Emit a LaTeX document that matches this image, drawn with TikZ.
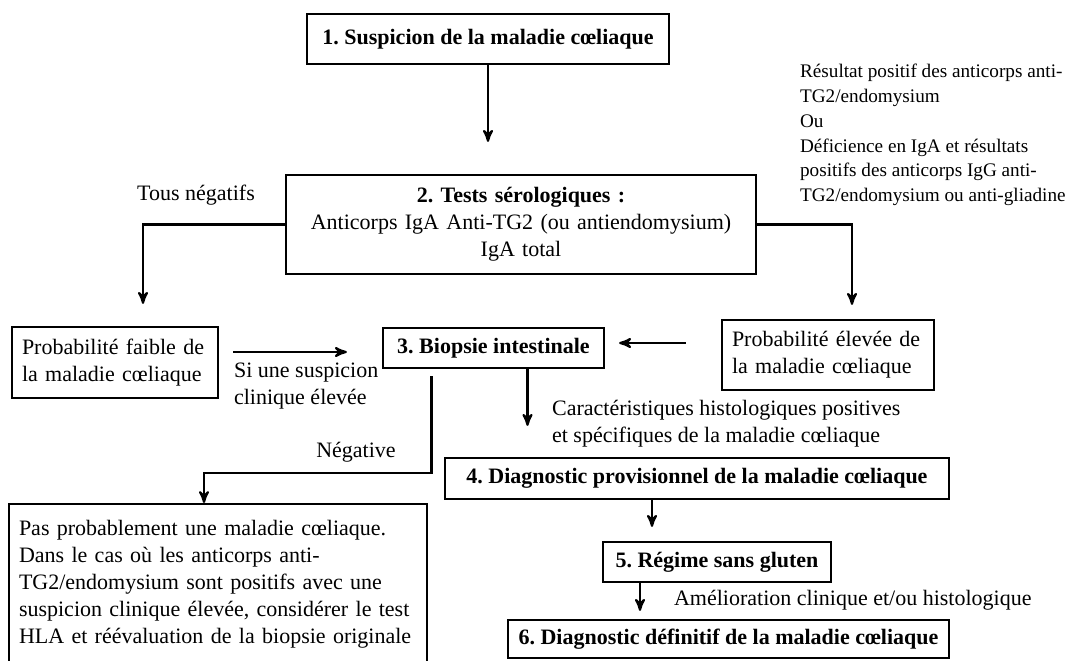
\documentclass[tikz,border=0pt]{standalone}
\usepackage{fontspec}
\setmainfont{Liberation Serif}
\usetikzlibrary{arrows}
\frenchspacing

\begin{document}
\begin{tikzpicture}[x=0.5pt,y=-0.5pt,->,>=stealth',line width=1.1pt]
    \tikzstyle{every node}=[font={\fontsize{11}{13.5}\selectfont},text=black]
    \tikzstyle{box}=[draw,inner xsep=5pt,inner ysep=0pt,align=left]
    \tikzstyle{stepbox}=[draw,inner sep=0pt,font={\fontsize{11}{13.5}\selectfont\bfseries}]
    \tikzstyle{note}=[inner sep=0pt,align=left,anchor=west]
    \useasboundingbox (0,0) rectangle (1073,660);
    \node[stepbox,minimum width=181pt,minimum height=25pt]   (1) at (488,39)    {1. Suspicion de la maladie cœliaque};
    \node[box,text width=225pt,minimum height=49.5pt,align=center] (2) at (521,224.5) {\textbf{2. Tests sérologiques :}\\Anticorps IgA Anti-TG2 (ou antiendomysium)\\IgA total};
    \node[stepbox,minimum width=110.5pt,minimum height=20pt] (3) at (493.5,348) {3. Biopsie intestinale};
    \node[stepbox,minimum width=252pt,minimum height=20.5pt] (4) at (697,478.5) {4. Diagnostic provisionnel de la maladie cœliaque};
    \node[stepbox,minimum width=114pt,minimum height=20pt]   (5) at (717,562)   {5. Régime sans gluten};
    \node[stepbox,minimum width=220.5pt,minimum height=19pt] (6) at (728.5,639) {6. Diagnostic définitif de la maladie cœliaque};
    \node[box,text width=93pt,minimum height=35.5pt]  (7) at (115,362.5) {Probabilité faible de\\la maladie cœliaque};
    \node[box,text width=96pt,minimum height=35pt]    (8) at (828,355)   {Probabilité élevée de\\la maladie cœliaque};
    \node[box,text width=199pt,minimum height=80pt,anchor=north] (9) at (218,503) {Pas probablement une maladie cœliaque.\\Dans le cas où les anticorps anti-\\TG2/endomysium sont positifs avec une\\suspicion clinique élevée, considérer le test\\HLA et réévaluation de la biopsie originale};
    % labels
    \node (neg) at (196,195) {Tous négatifs};
    \node[note,font={\fontsize{9.6}{12.4}\selectfont}] (pos) at (799,135) {Résultat positif des anticorps anti-\\TG2/endomysium\\Ou\\Déficience en IgA et résultats\\positifs des anticorps IgG anti-\\TG2/endomysium ou anti-gliadine};
    \node[note] (susp) at (233,386.5) {Si une suspicion\\clinique élevée};
    \node (bneg) at (356,452) {Négative};
    \node[note] (hist) at (551,424) {Caractéristiques histologiques positives\\et spécifiques de la maladie cœliaque};
    \node[note] (amel) at (673,600) {Amélioration clinique et/ou histologique};
    % connectors
    \coordinate (b) at ([xshift=17pt]3.south);
    \coordinate (c) at ([xshift=-31pt]3.south);
    \coordinate (d) at ([xshift=-7pt,yshift=15pt]9.north);
    \coordinate (e) at ([xshift=-22.5pt]4.south);
    \coordinate (g) at ([xshift=-38.5pt]5.south);
    \path (1) edge[shorten >=16pt] (1 |- 2.north);
    \draw[shorten >=11pt] (2.west) -| ([xshift=14pt]7.north);
    \draw[shorten >=7pt] (2.east) -| ([xshift=12pt]8.north);
    \draw[shorten <=7pt,shorten >=17.5pt] ([yshift=-2pt]3.west -| 7.east) -- ([yshift=-2pt]3.west);
    \draw[shorten <=17.5pt,shorten >=7pt] ([yshift=2.5pt]3.east -| 8.west) -- ([yshift=2.5pt]3.east);
    \draw[shorten >=15.5pt] (b) -- (b |- 4.north);
    \draw[shorten <=3.5pt] (c) |- (d) -- ([xshift=-7pt]9.north);
    \draw[shorten >=7pt] (e) -- (e |- 5.north);
    \draw[shorten >=4pt] (g) -- (g |- 6.north);
\end{tikzpicture}
\end{document}
